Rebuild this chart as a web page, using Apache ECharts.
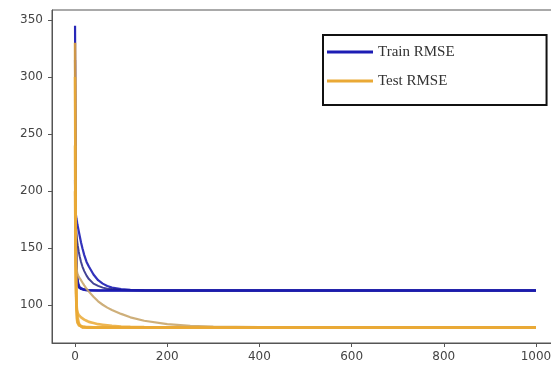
<!DOCTYPE html>
<html>
<head>
<meta charset="utf-8">
<script src="https://cdn.jsdelivr.net/npm/echarts@6/dist/echarts.min.js"></script>
<style>html,body{margin:0;padding:0;background:#fff}#c{width:551px;height:366px}</style>
</head>
<body>
<div id="c"></div>
<script>
const epochs = [0,1,2,3,4,5,6,8,10,13,16,20,25,30,40,50,60,70,80,100,120,150,200,250,300,400,600,800,1000];

// Train RMSE runs
const trainA = [345,230,170,140,128,122,119,116,115,114.5,114,113.6,113.3,113.2,113,113,113,113,113,113,113,113,113,113,113,113,113,113,113];
const trainB = [315,210,160,135,126,121,118,116,115,114.3,113.8,113.5,113.3,113.1,113,113,113,113,113,113,113,113,113,113,113,113,113,113,113];
const trainC = [185,182,179,176,174,171,169,165,161,155,150,144,138,134,127,122,119,117,115.5,114.3,113.6,113.2,113,113,113,113,113,113,113];
const trainD = [178,172,167,162,158,155,152,147,143,138,134,130,126,123,119,117,115.5,114.6,114,113.4,113.2,113,113,113,113,113,113,113,113];
const trainE = [210,160,135,126,122,125,121,118,116,115,114.5,114,113.6,113.4,113.2,113,113,113,113,113,113,113,113,113,113,113,113,113,113];

// Test RMSE runs
const testA = [330,210,140,105,92,87,85,83.5,82.5,82,81.5,81.2,81,81,80.8,80.8,80.8,80.8,80.8,80.8,80.8,80.8,80.8,80.8,80.8,80.8,80.8,80.8,80.8];
const testB = [300,190,125,98,88,85,83.5,82.5,82,81.5,81.2,81,80.5,80.5,80.5,80.5,80.5,80.5,80.5,80.5,80.5,80.5,80.5,80.5,80.5,80.5,80.5,80.5,80.5];
const testC = [165,150,140,134,130,128,127,125,123.5,122,120,117.5,114.5,112,107.5,103.5,100.5,98,96,92.5,89.5,86.5,83.5,82,81.3,80.9,80.8,80.8,80.8];
const testD = [240,150,110,100,96,94,93,91.5,90.5,89.5,88.5,87.5,86.5,85.5,84.5,83.5,83,82.5,82,81.5,81.2,81,80.8,80.8,80.8,80.8,80.8,80.8,80.8];
const testE = [200,150,120,105,97,92,89,85,82.5,81,80.5,80.3,80.3,80.3,80.3,80.3,80.3,80.3,80.3,80.3,80.3,80.3,80.3,80.3,80.3,80.3,80.3,80.3,80.3];

const xTicks = [0,200,400,600,800,1000];
const yTicks = [100,150,200,250,300,350];

const legendNames = ['Train RMSE','Test RMSE'];
const BLUE = '#1c1cb4';
const ORANGE = '#eaa935';

function pairs(vals){ return epochs.map((e,i)=>[e, vals[i]]); }
function mk(name, vals, color, width, opacity){
  return {name, type:'line', data: pairs(vals), showSymbol:false, symbol:'none',
    lineStyle:{color, width, opacity}, itemStyle:{color}, animation:false, z: 2};
}

const series = [
  mk(legendNames[0], trainA, BLUE, 2.2, 0.95),
  mk(legendNames[0], trainB, BLUE, 2.2, 0.95),
  mk(legendNames[0], trainC, BLUE, 2.2, 0.9),
  mk(legendNames[0], trainD, '#14147a', 2, 0.8),
  mk(legendNames[0], trainE, BLUE, 2.2, 0.9),
  mk(legendNames[1], testA, ORANGE, 2.6, 0.85),
  mk(legendNames[1], testB, ORANGE, 2.6, 0.85),
  mk(legendNames[1], testC, '#c9a66b', 2.2, 0.9),
  mk(legendNames[1], testD, ORANGE, 2.6, 0.85),
  mk(legendNames[1], testE, ORANGE, 2.6, 0.85)
];

const chart = echarts.init(document.getElementById('c'), null, {renderer:'canvas'});
chart.setOption({
  animation:false,
  backgroundColor:'#ffffff',
  grid:{left:52, top:10, width:507, height:333, outerBoundsMode:'none', containLabel:false,
    show:true, borderColor:'#555', borderWidth:1, backgroundColor:'transparent'},
  xAxis:{type:'value', min:-50, max:1050,
    axisLine:{show:true, onZero:false, lineStyle:{color:'#555', width:1}},
    axisTick:{show:true, length:4, lineStyle:{color:'#555'}, customValues:xTicks},
    axisLabel:{color:'#444', fontSize:12, fontFamily:'DejaVu Sans', margin:8, customValues:xTicks,
      formatter:(v)=>String(v)},
    splitLine:{show:false}},
  yAxis:{type:'value', min:67, max:358.7,
    axisLine:{show:true, onZero:false, lineStyle:{color:'#555', width:1}},
    axisTick:{show:true, length:4, lineStyle:{color:'#555'}, customValues:yTicks},
    axisLabel:{color:'#444', fontSize:12, fontFamily:'DejaVu Sans', margin:9, customValues:yTicks,
      formatter:(v)=>String(v)},
    splitLine:{show:false}},
  legend:{data:legendNames, orient:'vertical', left:323, top:35,
    icon:'rect', itemWidth:46, itemHeight:3, itemGap:13, itemTextGap:6,
    padding:[9,92,16,4],
    backgroundColor:'#fff', borderColor:'#111', borderWidth:2, borderRadius:0,
    textStyle:{fontFamily:'Liberation Serif', fontSize:15, color:'#333', lineHeight:16}},
  series
});
</script>
</body>
</html>
